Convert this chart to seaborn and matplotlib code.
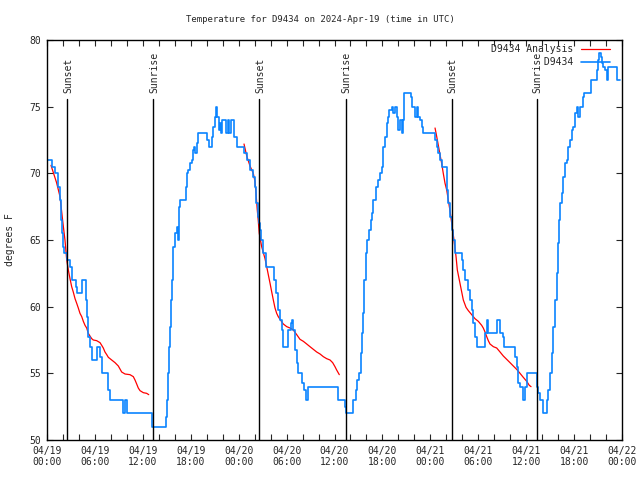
import matplotlib
matplotlib.use("Agg")
import matplotlib.pyplot as plt
import seaborn as sns
import pandas as pd

# hours since 2024-04-19 00:00 UTC, temperature in degrees F
blue_hours = [
    0.00, 0.66, 1.00, 1.38, 1.63, 1.75, 1.88, 2.04, 2.17, 2.54,
    2.88, 3.09, 3.63, 3.76, 4.42, 4.85, 5.05, 5.17, 5.38, 5.60,
    6.22, 6.64, 6.85, 7.68, 7.89, 9.52, 9.75, 9.98, 13.19, 14.86,
    14.99, 15.11, 15.24, 15.37, 15.49, 15.62, 15.74, 15.82, 15.99, 16.24,
    16.37, 16.57, 16.65, 17.37, 17.49, 17.69, 17.90, 18.12, 18.32, 18.41,
    18.53, 18.75, 18.87, 20.00, 20.32, 20.62, 20.83, 21.04, 21.16, 21.33,
    21.54, 21.66, 21.79, 21.95, 22.41, 22.66, 22.85, 23.04, 23.45, 23.75,
    24.67, 25.01, 25.42, 25.83, 26.04, 26.17, 26.46, 26.58, 26.67, 26.76,
    27.01, 27.42, 28.43, 28.68, 28.96, 29.18, 29.39, 29.59, 30.22, 30.52,
    30.72, 30.84, 31.06, 31.27, 31.47, 31.89, 32.18, 32.43, 32.72, 36.48,
    37.32, 37.44, 38.36, 38.69, 38.86, 39.07, 39.28, 39.41, 39.53, 39.70,
    39.95, 40.11, 40.36, 40.57, 40.66, 40.86, 41.16, 41.49, 41.70, 41.91,
    42.11, 42.33, 42.54, 42.66, 42.86, 43.16, 43.36, 43.58, 43.79, 43.99,
    44.20, 44.41, 44.62, 44.74, 45.54, 45.67, 45.87, 46.08, 46.29, 46.50,
    46.71, 46.92, 47.12, 48.59, 48.80, 49.00, 49.21, 49.42, 50.05, 50.25,
    50.46, 50.68, 50.88, 51.09, 51.93, 52.13, 52.34, 52.76, 52.97, 53.18,
    53.38, 53.59, 53.81, 54.85, 55.06, 55.26, 56.31, 56.73, 57.07, 57.23,
    58.60, 58.81, 59.02, 59.23, 59.57, 59.86, 60.07, 61.32, 61.52, 61.73,
    62.15, 62.65, 62.78, 62.99, 63.20, 63.40, 63.61, 63.83, 64.03, 64.15,
    64.24, 64.45, 64.65, 64.86, 65.08, 65.28, 65.49, 65.70, 65.90, 66.11,
    66.33, 66.53, 66.74, 67.08, 67.24, 68.08, 68.83, 69.03, 69.16, 69.33,
    69.46, 69.66, 69.87, 70.08, 70.29, 71.34, 71.76,
]
blue_temps = [
    71, 70.5, 70, 69, 68, 66.5, 65.5, 64.5, 64, 63.5,
    63, 62, 61.5, 61, 62, 60.5, 59.25, 57.75, 57, 56,
    57, 56.25, 55, 53.75, 53, 52, 53, 52, 51, 51.75,
    53, 55, 57, 58.5, 60.5, 62, 63.5, 64.5, 65.5, 66,
    65, 67.5, 68, 69, 70, 70.25, 70.75, 71, 71.75, 72,
    71.5, 72.25, 73, 72.5, 72, 72.75, 73.5, 74.25, 75, 74.25,
    73.25, 73.75, 73, 74, 73, 74, 73, 74, 72.75, 72,
    71.5, 71, 70.25, 69.75, 69, 67.75, 66.75, 66.25, 65.75, 65,
    64, 63, 62, 61, 59.75, 59, 58.25, 57, 58.25, 58.75,
    59, 58.25, 56.75, 55.75, 55, 54.25, 53.75, 53, 54, 53,
    52.5, 52, 53, 53.75, 54.5, 55, 56.5, 58, 59.5, 62,
    64, 65, 65.75, 66.5, 67, 68, 69, 69.5, 70, 70.5,
    72, 72.75, 73.75, 74.25, 74.75, 75, 74.5, 75, 74.25, 73.25,
    74, 73, 74, 76, 75.75, 75, 75, 74.25, 75, 74.25,
    74, 73.5, 73, 72.5, 72, 71.5, 71, 70.5, 68.75, 67.75,
    66.75, 65.75, 65, 64, 63.5, 62.75, 62, 61.25, 60.5, 59.75,
    58.75, 57.75, 57, 58, 59, 58, 59, 58, 57.75, 57,
    56.25, 55.5, 54.25, 54, 53, 54, 55, 54, 53.5, 53,
    52, 53, 53.75, 55, 56.5, 58.5, 60.5, 62.5, 64.75, 66.5,
    67.75, 68.5, 69.75, 70.75, 71, 72, 72.5, 73.25, 73.5, 74.5,
    75, 74.25, 75, 75.75, 76, 77, 77.75, 78.5, 79, 78.75,
    78.25, 78, 77.75, 77, 78, 77, 77,
]

# analysis curves (three nightly pieces)
red1_hours = [0.50, 1.20, 1.63, 1.97, 2.25, 2.47, 2.67, 2.88, 3.09, 3.29,
              3.51, 3.72, 3.92, 4.13, 4.35, 4.55, 4.76, 4.97, 5.17, 5.38,
              5.60, 5.80, 6.22, 6.64, 6.85, 7.05, 7.26, 7.48, 7.68, 8.10,
              8.52, 8.93, 9.35, 9.77, 10.39, 10.81, 11.02, 11.23, 11.43, 11.65,
              12.06, 12.48, 12.74]
red1_temps = [70.6, 69.3, 68.25, 66.4, 65, 63.5, 62.75, 62.1, 61.5, 61.1,
              60.6, 60.25, 59.9, 59.5, 59.25, 58.9, 58.6, 58.4, 58, 57.8,
              57.6, 57.5, 57.45, 57.3, 57.1, 56.9, 56.6, 56.4, 56.2, 56,
              55.8, 55.55, 55.1, 54.95, 54.9, 54.75, 54.5, 54.2, 53.9, 53.7,
              53.55, 53.5, 53.4]
red2_hours = [24.67, 25.01, 25.42, 25.83, 26.04, 26.17, 26.33, 26.46, 26.58, 26.88,
              27.30, 27.51, 27.71, 27.93, 28.14, 28.34, 28.55, 28.76, 28.96, 29.18,
              29.59, 30.02, 30.43, 30.84, 31.27, 31.68, 32.10, 32.52, 32.93, 33.35,
              33.77, 34.19, 34.60, 35.02, 35.44, 35.77, 36.06, 36.27, 36.60]
red2_temps = [72.2, 71.3, 70.55, 70, 69.4, 68.5, 67.25, 66.4, 65.5, 64.5,
              63.6, 63, 62.4, 61.75, 61.1, 60.5, 59.9, 59.5, 59.25, 59.05,
              58.7, 58.5, 58.4, 58.25, 57.9, 57.55, 57.4, 57.2, 57, 56.8,
              56.6, 56.45, 56.25, 56.1, 56, 55.8, 55.5, 55.25, 54.9]
red3_hours = [48.59, 48.80, 49.00, 49.21, 49.42, 49.62, 49.84, 50.05, 50.25, 50.46,
              50.68, 50.96, 51.22, 51.38, 51.63, 51.93, 52.13, 52.47, 52.76, 53.18,
              53.59, 54.01, 54.43, 54.63, 54.85, 55.06, 55.26, 55.47, 55.89, 56.31,
              56.73, 57.14, 57.56, 57.98, 58.39, 58.81, 59.23, 59.64, 60.07, 60.39,
              60.61]
red3_temps = [73.4, 72.75, 72.1, 71.4, 70.75, 70, 69.25, 68.75, 68, 67.2,
              66.25, 65, 63.75, 62.75, 62, 61.1, 60.5, 59.95, 59.7, 59.4,
              59.1, 58.9, 58.6, 58.4, 58.1, 57.75, 57.45, 57.2, 57, 56.9,
              56.6, 56.3, 56.05, 55.8, 55.55, 55.3, 55, 54.7, 54.4, 54.1,
              54]

event_hours = [2.54, 13.31, 26.59, 37.40, 50.68, 61.32]
event_names = ["Sunset", "Sunrise", "Sunset", "Sunrise", "Sunset", "Sunrise"]

tick_hours = [0, 6, 12, 18, 24, 30, 36, 42, 48, 54, 60, 66, 72]
tick_labels = ["04/19\n00:00", "04/19\n06:00", "04/19\n12:00", "04/19\n18:00",
               "04/20\n00:00", "04/20\n06:00", "04/20\n12:00", "04/20\n18:00",
               "04/21\n00:00", "04/21\n06:00", "04/21\n12:00", "04/21\n18:00",
               "04/22\n00:00"]

sns.set_style("ticks")
plt.rcParams["font.family"] = ["DejaVu Sans Mono"]
plt.rcParams["font.size"] = 7

fig = plt.figure(figsize=(6.4, 4.8), dpi=100)
ax = fig.add_axes([47 / 640, 40 / 480, 575 / 640, 400 / 480])

red_parts = [(red1_hours, red1_temps), (red2_hours, red2_temps), (red3_hours, red3_temps)]
for i, (h, t) in enumerate(red_parts):
    sns.lineplot(x=h, y=t, ax=ax, color="red", linewidth=0.9,
                 label="D9434 Analysis" if i == 0 else None, legend=False)

sns.lineplot(x=blue_hours, y=blue_temps, ax=ax, color="#0a84ff", linewidth=1.2,
             drawstyle="steps-post", label="         D9434", legend=False)

for h, name in zip(event_hours, event_names):
    ax.axvline(h, ymin=0, ymax=0.8525, color="black", linewidth=1.0)
    ax.text(h + 0.1, 0.868, name, rotation=90, ha="center", va="bottom",
            transform=ax.get_xaxis_transform(), fontsize=7)

ax.set_xlim(0, 72)
ax.set_ylim(50, 80)
ax.set_xticks(tick_hours)
ax.set_xticklabels(tick_labels)
ax.set_xticks(range(0, 73, 2), minor=True)
ax.set_yticks(range(50, 81, 5))
ax.tick_params(which="both", direction="in", top=True, right=True, length=4,
               width=0.8, labelsize=7, pad=4)
for s in ax.spines.values():
    s.set_color("black")
    s.set_linewidth(1.0)
ax.set_xlabel("")
ax.set_ylabel("")

handles, labels = ax.get_legend_handles_labels()
ax.legend(handles, labels, loc="upper right", bbox_to_anchor=(0.979, 0.99),
          markerfirst=False, frameon=False, borderaxespad=0, borderpad=0,
          handlelength=3.0, handletextpad=0.8, labelspacing=0.35, fontsize=7)

fig.text(0.5, 1 - 20 / 480, "Temperature for D9434 on 2024-Apr-19 (time in UTC)",
         ha="center", va="center", fontsize=6.5)
fig.text(10 / 640, 0.5, "degrees F", rotation=90, ha="center", va="center", fontsize=7)

fig.savefig("out.png", dpi=100)
